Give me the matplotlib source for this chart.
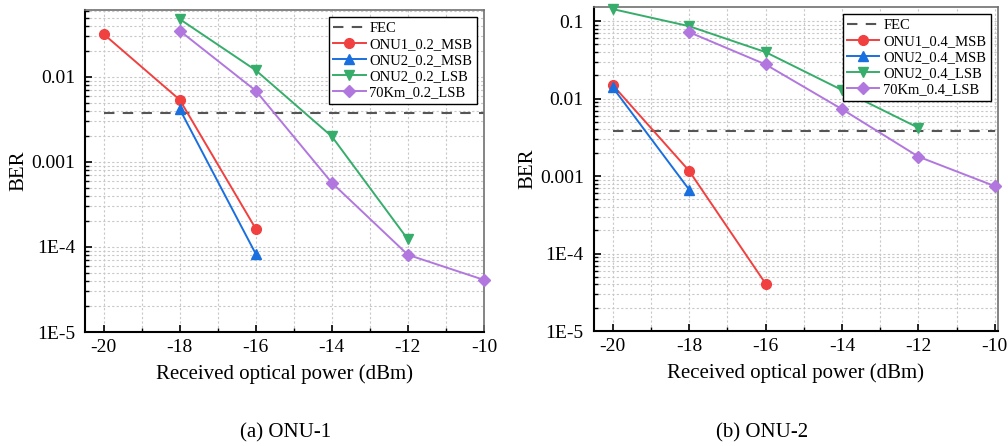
import matplotlib
matplotlib.use("Agg")
import matplotlib.pyplot as plt
from matplotlib.ticker import LogLocator, FixedLocator, MultipleLocator, FixedFormatter

plt.rcParams['font.family'] = ['Liberation Serif', 'DejaVu Serif']
plt.rcParams['axes.unicode_minus'] = False

# panel (a) ONU-1
x_a = [-20, -18, -16, -14, -12, -10]
onu1_02_msb = [0.032, 0.0054, 1.64e-4]
onu2_02_msb = [0.0042, 8.3e-5]
onu2_02_lsb = [0.048, 0.012, 0.002, 1.23e-4]
km70_02_lsb = [0.035, 0.0069, 5.7e-4, 8.1e-5, 4.1e-5]

# panel (b) ONU-2
onu1_04_msb = [0.015, 0.00117, 4.1e-5]
onu2_04_msb = [0.014, 6.7e-4]
onu2_04_lsb = [0.143, 0.086, 0.0398, 0.0129, 0.0042]
km70_04_lsb = [0.072, 0.0276, 0.0073, 0.00178, 7.4e-4]

fec = 0.0038
fec_x = [-20, -10]

ytick_vals = [1e-5, 1e-4, 1e-3, 1e-2, 1e-1]
ytick_labels = ["1E-5", "1E-4", "0.001", "0.01", "0.1"]

red = "#F14040"
blue = "#1A6FDF"
green = "#37AD6B"
purple = "#B177DE"

fig = plt.figure(figsize=(10.08, 4.46), dpi=100)
ax1 = fig.add_axes([0.0843, 0.2556, 0.3958, 0.722])
ax2 = fig.add_axes([0.5888, 0.2578, 0.4012, 0.7265])


def draw(ax, xs_list, series, labels, ylim, xlim):
    ax.plot(fec_x, [fec, fec], color="#555555", lw=1.5, ls=(0, (5, 4)), label="FEC")
    styles = [(red, "o", 7), (blue, "^", 7.5), (green, "v", 7.5), (purple, "D", 6.5)]
    for xs, ys, lab, (c, m, ms) in zip(xs_list, series, labels, styles):
        ax.plot(xs, ys, color=c, marker=m, ms=ms, lw=1.4, label=lab, clip_on=False, zorder=3)
    ax.set_yscale("log")
    ax.set_ylim(*ylim)
    ax.set_xlim(*xlim)
    ax.yaxis.set_major_locator(FixedLocator(ytick_vals))
    ax.yaxis.set_major_formatter(FixedFormatter(ytick_labels))
    ax.yaxis.set_minor_locator(LogLocator(base=10, subs=range(2, 10)))
    ax.yaxis.set_minor_formatter(plt.NullFormatter())
    ax.xaxis.set_major_locator(MultipleLocator(2))
    ax.xaxis.set_minor_locator(MultipleLocator(1))
    ax.grid(True, which="both", color="#c8c8c8", ls=(0, (2, 2)), lw=0.8)
    ax.set_axisbelow(True)
    ax.tick_params(which="both", direction="in", top=False, right=False, labelsize=14)
    ax.tick_params(which="major", length=5, width=1.2)
    ax.tick_params(which="minor", length=3, width=1)
    ax.tick_params(axis="x", pad=5)
    ax.tick_params(axis="y", pad=7)
    for s in ["left", "bottom"]:
        ax.spines[s].set_color("black")
        ax.spines[s].set_linewidth(1.5)
    for s in ["top", "right"]:
        ax.spines[s].set_color("#707070")
        ax.spines[s].set_linewidth(1.2)
    ax.set_xlabel("Received optical power (dBm)", fontsize=15, labelpad=6)
    ax.set_ylabel("BER", fontsize=15, labelpad=2)
    leg = ax.legend(loc="upper right", fontsize=10.5, frameon=True, fancybox=False,
                    edgecolor="black", framealpha=1, borderpad=0.3, labelspacing=0.2,
                    handlelength=2.2, handletextpad=0.25, borderaxespad=0.5)
    leg.get_frame().set_linewidth(1.0)


draw(ax1,
     [x_a[:3], x_a[1:3], x_a[1:5], x_a[1:6]],
     [onu1_02_msb, onu2_02_msb, onu2_02_lsb, km70_02_lsb],
     ["ONU1_0.2_MSB", "ONU2_0.2_MSB", "ONU2_0.2_LSB", "70Km_0.2_LSB"],
     (1e-5, 0.0614), (-20.49, -10.0))

draw(ax2,
     [x_a[:3], x_a[:2], x_a[:5], x_a[1:6]],
     [onu1_04_msb, onu2_04_msb, onu2_04_lsb, km70_04_lsb],
     ["ONU1_0.4_MSB", "ONU2_0.4_MSB", "ONU2_0.4_LSB", "70Km_0.4_LSB"],
     (1e-5, 0.152), (-20.5, -9.92))

fig.text(0.283, 0.029, "(a) ONU-1", fontsize=15, ha="center", va="center")
fig.text(0.756, 0.029, "(b) ONU-2", fontsize=15, ha="center", va="center")

fig.savefig("out.png", dpi=100)
